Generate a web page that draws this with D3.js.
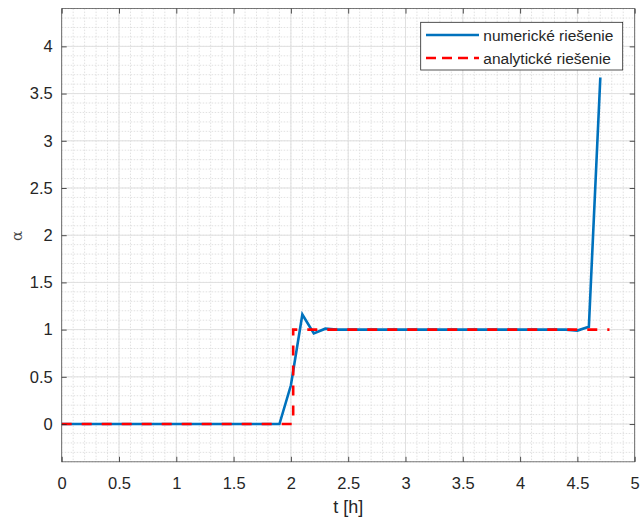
<!DOCTYPE html>
<html>
<head>
<meta charset="utf-8">
<script src="https://cdn.jsdelivr.net/npm/d3@7"></script>
<style>
  html, body { margin: 0; padding: 0; background: #fff; }
  svg { display: block; font-family: "Liberation Sans", Arial, Helvetica, sans-serif; }
</style>
</head>
<body>
<svg id="chart" width="642" height="520"></svg>
<script>
// Numerical solution (time step 0.1 h)
const tNum = [0, 0.1, 0.2, 0.3, 0.4, 0.5, 0.6, 0.7, 0.8, 0.9,
              1.0, 1.1, 1.2, 1.3, 1.4, 1.5, 1.6, 1.7, 1.8, 1.9,
              2.0, 2.1, 2.2, 2.3, 2.4, 2.5, 2.6, 2.7, 2.8, 2.9,
              3.0, 3.1, 3.2, 3.3, 3.4, 3.5, 3.6, 3.7, 3.8, 3.9,
              4.0, 4.1, 4.2, 4.3, 4.4, 4.5, 4.6, 4.7];
const alphaNum = [0, 0, 0, 0, 0, 0, 0, 0, 0, 0,
                  0, 0, 0, 0, 0, 0, 0, 0, 0, 0,
                  0.41, 1.16, 0.96, 1.01, 1, 1, 1, 1, 1, 1,
                  1, 1, 1, 1, 1, 1, 1, 1, 1, 1,
                  1, 1, 1, 1, 1, 0.99, 1.03, 3.67];

// Analytical solution (step)
const tAna = [0, 2.02, 2.02, 4.78];
const alphaAna = [0, 0, 1, 1];

const xTicks = [0, 0.5, 1, 1.5, 2, 2.5, 3, 3.5, 4, 4.5, 5];
const yTicks = [0, 0.5, 1, 1.5, 2, 2.5, 3, 3.5, 4];
const xMinor = d3.range(0, 51).map(i => i / 10);
const yMinor = d3.range(-4, 45).map(i => i / 10);

const seriesNames = ["numerické riešenie", "analytické riešenie"];

const svg = d3.select("#chart");
const pLeft = 61.7, pRight = 634.7, pTop = 8.6, pBottom = 461.8;

const x = d3.scaleLinear().domain([0, 5]).range([pLeft, pRight]);
const y = d3.scaleLinear().domain([-0.4, 4.4]).range([pBottom, pTop]);

const axisColor = "#262626";

// minor grid (dotted)
const grid = svg.append("g");
grid.selectAll("line.mx").data(xMinor).join("line")
  .attr("x1", d => x(d)).attr("x2", d => x(d))
  .attr("y1", pTop).attr("y2", pBottom)
  .attr("stroke", "#d9d9d9").attr("stroke-width", 0.8)
  .attr("stroke-dasharray", "1.5,1.5");
grid.selectAll("line.my").data(yMinor).join("line")
  .attr("x1", pLeft).attr("x2", pRight)
  .attr("y1", d => y(d)).attr("y2", d => y(d))
  .attr("stroke", "#d9d9d9").attr("stroke-width", 0.8)
  .attr("stroke-dasharray", "1.5,1.5");

// major grid (solid)
grid.selectAll("line.gx").data(xTicks).join("line")
  .attr("x1", d => x(d)).attr("x2", d => x(d))
  .attr("y1", pTop).attr("y2", pBottom)
  .attr("stroke", "#e0e0e0").attr("stroke-width", 1);
grid.selectAll("line.gy").data(yTicks).join("line")
  .attr("x1", pLeft).attr("x2", pRight)
  .attr("y1", d => y(d)).attr("y2", d => y(d))
  .attr("stroke", "#e0e0e0").attr("stroke-width", 1);

// data lines
svg.append("clipPath").attr("id", "plotClip")
  .append("rect").attr("x", pLeft).attr("y", pTop)
  .attr("width", pRight - pLeft).attr("height", pBottom - pTop);

const line = d3.line().x(d => x(d[0])).y(d => y(d[1]));
const plot = svg.append("g").attr("clip-path", "url(#plotClip)");

plot.append("path")
  .datum(tNum.map((t, i) => [t, alphaNum[i]]))
  .attr("d", line)
  .attr("fill", "none")
  .attr("stroke", "#0072BD")
  .attr("stroke-width", 2.6)
  .attr("stroke-linejoin", "miter");

plot.append("path")
  .datum(tAna.map((t, i) => [t, alphaAna[i]]))
  .attr("d", line)
  .attr("fill", "none")
  .attr("stroke", "#FF0000")
  .attr("stroke-width", 2.6)
  .attr("stroke-dasharray", "10,10");

// axes with inward ticks on all four sides
const tickLen = 5;
const xAxisB = d3.axisBottom(x).tickValues(xTicks).tickSizeInner(-tickLen).tickSizeOuter(0)
  .tickPadding(15).tickFormat(d3.format("~g"));
const xAxisT = d3.axisTop(x).tickValues(xTicks).tickSizeInner(-tickLen).tickSizeOuter(0)
  .tickFormat("");
const yAxisL = d3.axisLeft(y).tickValues(yTicks).tickSizeInner(-tickLen).tickSizeOuter(0)
  .tickPadding(9).tickFormat(d3.format("~g"));
const yAxisR = d3.axisRight(y).tickValues(yTicks).tickSizeInner(-tickLen).tickSizeOuter(0)
  .tickFormat("");

function styleAxis(g) {
  g.select(".domain").remove();
  g.selectAll(".tick line").attr("stroke", axisColor).attr("stroke-width", 0.8);
  g.selectAll(".tick text").attr("fill", axisColor)
    .style("font-family", "'Liberation Sans', Arial, sans-serif")
    .style("font-size", "16.5px");
}

svg.append("g").attr("transform", `translate(0,${pBottom})`).call(xAxisB).call(styleAxis);
svg.append("g").attr("transform", `translate(0,${pTop})`).call(xAxisT).call(styleAxis);
svg.append("g").attr("transform", `translate(${pLeft},0)`).call(yAxisL).call(styleAxis);
svg.append("g").attr("transform", `translate(${pRight},0)`).call(yAxisR).call(styleAxis);

// axes box
svg.append("rect")
  .attr("x", pLeft).attr("y", pTop)
  .attr("width", pRight - pLeft).attr("height", pBottom - pTop)
  .attr("fill", "none").attr("stroke", axisColor).attr("stroke-width", 0.8)
  .attr("opacity", 0.75);

// axis labels
svg.append("text")
  .attr("x", (pLeft + pRight) / 2).attr("y", 513)
  .attr("text-anchor", "middle")
  .attr("fill", axisColor)
  .style("font-size", "18px")
  .text("t [h]");

svg.append("text")
  .attr("transform", "translate(22,236) rotate(-90)")
  .attr("text-anchor", "middle")
  .attr("fill", "#444")
  .style("font-family", "'DejaVu Serif', 'Liberation Serif', serif")
  .style("font-size", "15px")
  .text("α");

// legend
const lg = svg.append("g");
lg.append("rect")
  .attr("x", 420.7).attr("y", 22.3).attr("width", 202).attr("height", 47.7)
  .attr("fill", "#fff").attr("stroke", axisColor).attr("stroke-width", 0.8);

const legendRows = [
  { name: seriesNames[0], color: "#0072BD", dash: null, yy: 35 },
  { name: seriesNames[1], color: "#FF0000", dash: "10,6", yy: 58 }
];
legendRows.forEach(r => {
  lg.append("line")
    .attr("x1", 426).attr("x2", 479).attr("y1", r.yy).attr("y2", r.yy)
    .attr("stroke", r.color).attr("stroke-width", 2.6)
    .attr("stroke-dasharray", r.dash);
  lg.append("text")
    .attr("x", 483.3).attr("y", r.yy + 5.5)
    .attr("fill", axisColor)
    .style("font-size", "15.5px")
    .text(r.name);
});
</script>
</body>
</html>
